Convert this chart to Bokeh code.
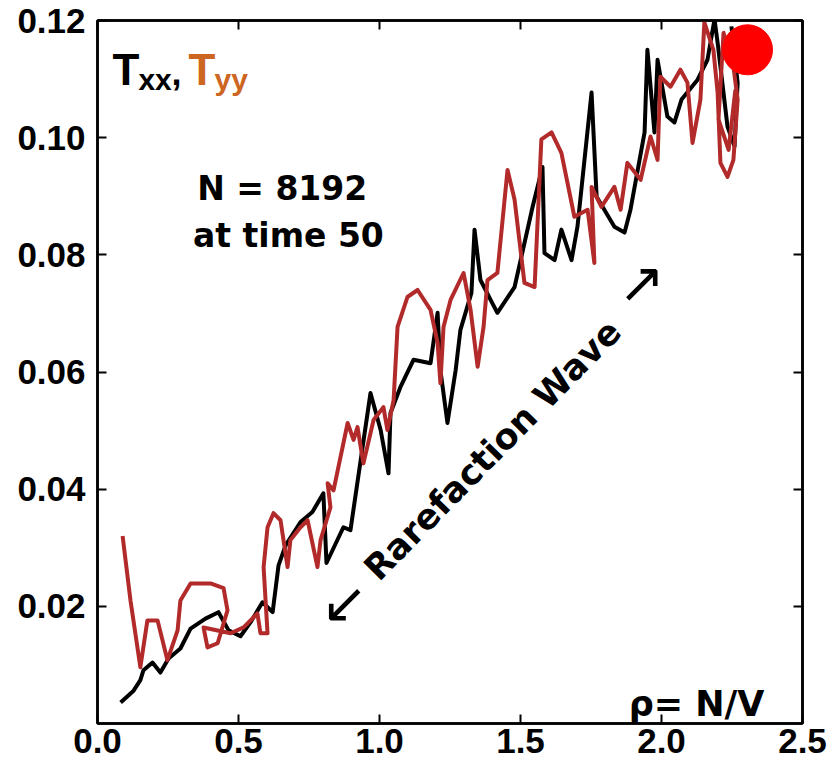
from bokeh.plotting import figure
from bokeh.models import Range1d, LinearAxis, FixedTicker, Label, PrintfTickFormatter
from bokeh.embed import file_html
from bokeh.resources import INLINE

# ---- data ----
txx_rho = [0.082, 0.128, 0.152, 0.163, 0.195, 0.223, 0.252, 0.294, 0.330, 0.383,
           0.429, 0.465, 0.507, 0.543, 0.585, 0.621, 0.642, 0.667, 0.720, 0.762,
           0.801, 0.812, 0.872, 0.897, 0.968, 1.004, 1.032, 1.039, 1.074, 1.121,
           1.181, 1.206, 1.216, 1.241, 1.270, 1.287, 1.326, 1.337, 1.358, 1.394,
           1.418, 1.479, 1.543, 1.578, 1.585, 1.621, 1.645, 1.681, 1.702, 1.752,
           1.770, 1.833, 1.869, 1.890, 1.940, 1.950, 1.975, 1.986, 2.021, 2.046,
           2.071, 2.128, 2.163, 2.188, 2.199, 2.234, 2.259, 2.270, 2.248]
txx_val = [0.0036, 0.0056, 0.0074, 0.0091, 0.0104, 0.0087, 0.0111, 0.0128, 0.0162, 0.0179,
           0.0190, 0.0159, 0.0149, 0.0173, 0.0207, 0.0190, 0.0270, 0.0304, 0.0344, 0.0361,
           0.0393, 0.0274, 0.0335, 0.0330, 0.0564, 0.0501, 0.0427, 0.0530, 0.0574, 0.0621,
           0.0615, 0.0701, 0.0603, 0.0513, 0.0603, 0.0672, 0.0735, 0.0843, 0.0757, 0.0723,
           0.0701, 0.0745, 0.0882, 0.0950, 0.0803, 0.0791, 0.0843, 0.0791, 0.0848, 0.1077,
           0.0899, 0.0848, 0.0838, 0.0877, 0.1009, 0.1150, 0.1009, 0.1133, 0.1036, 0.1026,
           0.1065, 0.1099, 0.1133, 0.1202, 0.1162, 0.1019, 0.0985, 0.1094, 0.1190]

tyy_rho = [0.089, 0.117, 0.152, 0.177, 0.213, 0.248, 0.284, 0.294, 0.330, 0.401,
           0.447, 0.461, 0.426, 0.390, 0.376, 0.472, 0.518, 0.567, 0.578, 0.603,
           0.589, 0.603, 0.624, 0.649, 0.674, 0.684, 0.720, 0.745, 0.780, 0.791,
           0.826, 0.816, 0.837, 0.887, 0.908, 0.922, 0.943, 0.979, 1.014, 1.028,
           1.050, 1.064, 1.099, 1.135, 1.181, 1.206, 1.216, 1.227, 1.252, 1.298,
           1.323, 1.348, 1.369, 1.383, 1.418, 1.454, 1.479, 1.514, 1.550, 1.574,
           1.610, 1.645, 1.691, 1.738, 1.762, 1.752, 1.787, 1.833, 1.855, 1.879,
           1.926, 1.961, 1.986, 1.996, 2.032, 2.067, 2.092, 2.110, 2.138, 2.152,
           2.184, 2.199, 2.209, 2.234, 2.255, 2.270, 2.255, 2.220, 2.202, 2.238,
           2.262]
tyy_val = [0.0320, 0.0210, 0.0096, 0.0176, 0.0176, 0.0108, 0.0159, 0.0210, 0.0239, 0.0239,
           0.0231, 0.0193, 0.0137, 0.0130, 0.0164, 0.0154, 0.0164, 0.0188, 0.0154, 0.0154,
           0.0267, 0.0335, 0.0359, 0.0347, 0.0267, 0.0313, 0.0335, 0.0347, 0.0267, 0.0313,
           0.0369, 0.0410, 0.0398, 0.0513, 0.0484, 0.0506, 0.0444, 0.0518, 0.0540, 0.0501,
           0.0552, 0.0677, 0.0728, 0.0740, 0.0706, 0.0650, 0.0581, 0.0677, 0.0723, 0.0769,
           0.0706, 0.0609, 0.0677, 0.0757, 0.0769, 0.0945, 0.0894, 0.0752, 0.0745, 0.0997,
           0.1009, 0.0974, 0.0865, 0.0877, 0.0786, 0.0916, 0.0882, 0.0916, 0.0877, 0.0957,
           0.0928, 0.1002, 0.0962, 0.1104, 0.1087, 0.1116, 0.1094, 0.0991, 0.1065, 0.1197,
           0.1150, 0.1077, 0.0957, 0.0933, 0.0962, 0.1065, 0.1121, 0.1179, 0.1031, 0.0979,
           0.1082]

dot_rho = [2.305]
dot_val = [0.115]

x_ticks = [0.0, 0.5, 1.0, 1.5, 2.0, 2.5]
y_ticks = [0.02, 0.04, 0.06, 0.08, 0.10, 0.12]

TXX_COLOR = "#000000"
TYY_COLOR = "#b22a2a"
LABEL_ORANGE = "#cc6620"

p = figure(width=828, height=767,
           x_range=Range1d(0, 2.5), y_range=Range1d(0, 0.12),
           output_backend="svg", toolbar_location=None,
           min_border_left=97, min_border_right=26,
           min_border_top=20, min_border_bottom=44)
p.background_fill_color = "white"
p.border_fill_color = "white"
p.xgrid.grid_line_color = None
p.ygrid.grid_line_color = None
p.outline_line_color = "black"
p.outline_line_width = 2.5
p.outline_line_alpha = 1.0

def style(ax, ticks, fmt, show_labels=True):
    ax.ticker = FixedTicker(ticks=ticks)
    ax.formatter = PrintfTickFormatter(format=fmt)
    ax.axis_line_width = 2.5
    ax.axis_line_color = "black"
    ax.major_tick_line_width = 2
    ax.major_tick_line_color = "black"
    ax.major_tick_in = 9
    ax.major_tick_out = 0
    ax.minor_tick_line_color = None
    ax.major_label_text_font = "Liberation Sans"
    ax.major_label_text_font_style = "bold"
    if show_labels:
        ax.major_label_text_color = "black"
        ax.major_label_text_font_size = "35px"
    else:
        ax.major_label_text_color = None
        ax.major_label_text_alpha = 0
        ax.major_label_text_font_size = "1px"
        ax.major_label_standoff = 0

style(p.xaxis[0], x_ticks, "%.1f")
p.xaxis[0].major_label_standoff = 5
style(p.yaxis[0], y_ticks, "%.2f")
p.yaxis[0].major_label_standoff = 12

top_axis = LinearAxis()
style(top_axis, x_ticks, "%.1f", show_labels=False)
p.add_layout(top_axis, "above")
right_axis = LinearAxis()
style(right_axis, y_ticks, "%.2f", show_labels=False)
p.add_layout(right_axis, "right")

p.line(txx_rho, txx_val, line_color=TXX_COLOR, line_width=4, line_join="round")
p.line(tyy_rho, tyy_val, line_color=TYY_COLOR, line_width=4, line_join="round")
p.scatter(dot_rho, dot_val, size=50, fill_color="#ff0000", line_color="#ff0000")

def lab(x, y, t, size, color="black", font="Liberation Sans", align="left",
        baseline="alphabetic", angle=0.0, style_="bold"):
    p.add_layout(Label(x=x, y=y, text=t, text_font=font, text_font_size=size,
                       text_font_style=style_, text_color=color, text_align=align,
                       text_baseline=baseline, angle=angle))

# T_xx , T_yy
lab(0.053, 0.1116, "T", "44px")
lab(0.145, 0.1100, "xx", "30px")
lab(0.262, 0.1112, ",", "36px")
lab(0.323, 0.1116, "T", "44px", color=LABEL_ORANGE)
lab(0.415, 0.1100, "yy", "30px", color=LABEL_ORANGE)

lab(0.655, 0.0913, "N = 8192", "33px", font="DejaVu Sans", align="center")
lab(0.677, 0.0833, "at time 50", "33px", font="DejaVu Sans", align="center")
lab(2.365, 0.0033, "\u03c1= N/V", "35px", font="DejaVu Sans", align="right")

lab(1.401, 0.0467, "Rarefaction Wave", "35px", font="DejaVu Sans", align="center",
    baseline="middle", angle=0.794)
lab(0.876, 0.0207, "\u2199", "56px", font="DejaVu Sans", align="center",
    baseline="middle", style_="normal")
lab(1.929, 0.0752, "\u2197", "56px", font="DejaVu Sans", align="center",
    baseline="middle", style_="normal")

open("out.html", "w").write(file_html(p, INLINE))
